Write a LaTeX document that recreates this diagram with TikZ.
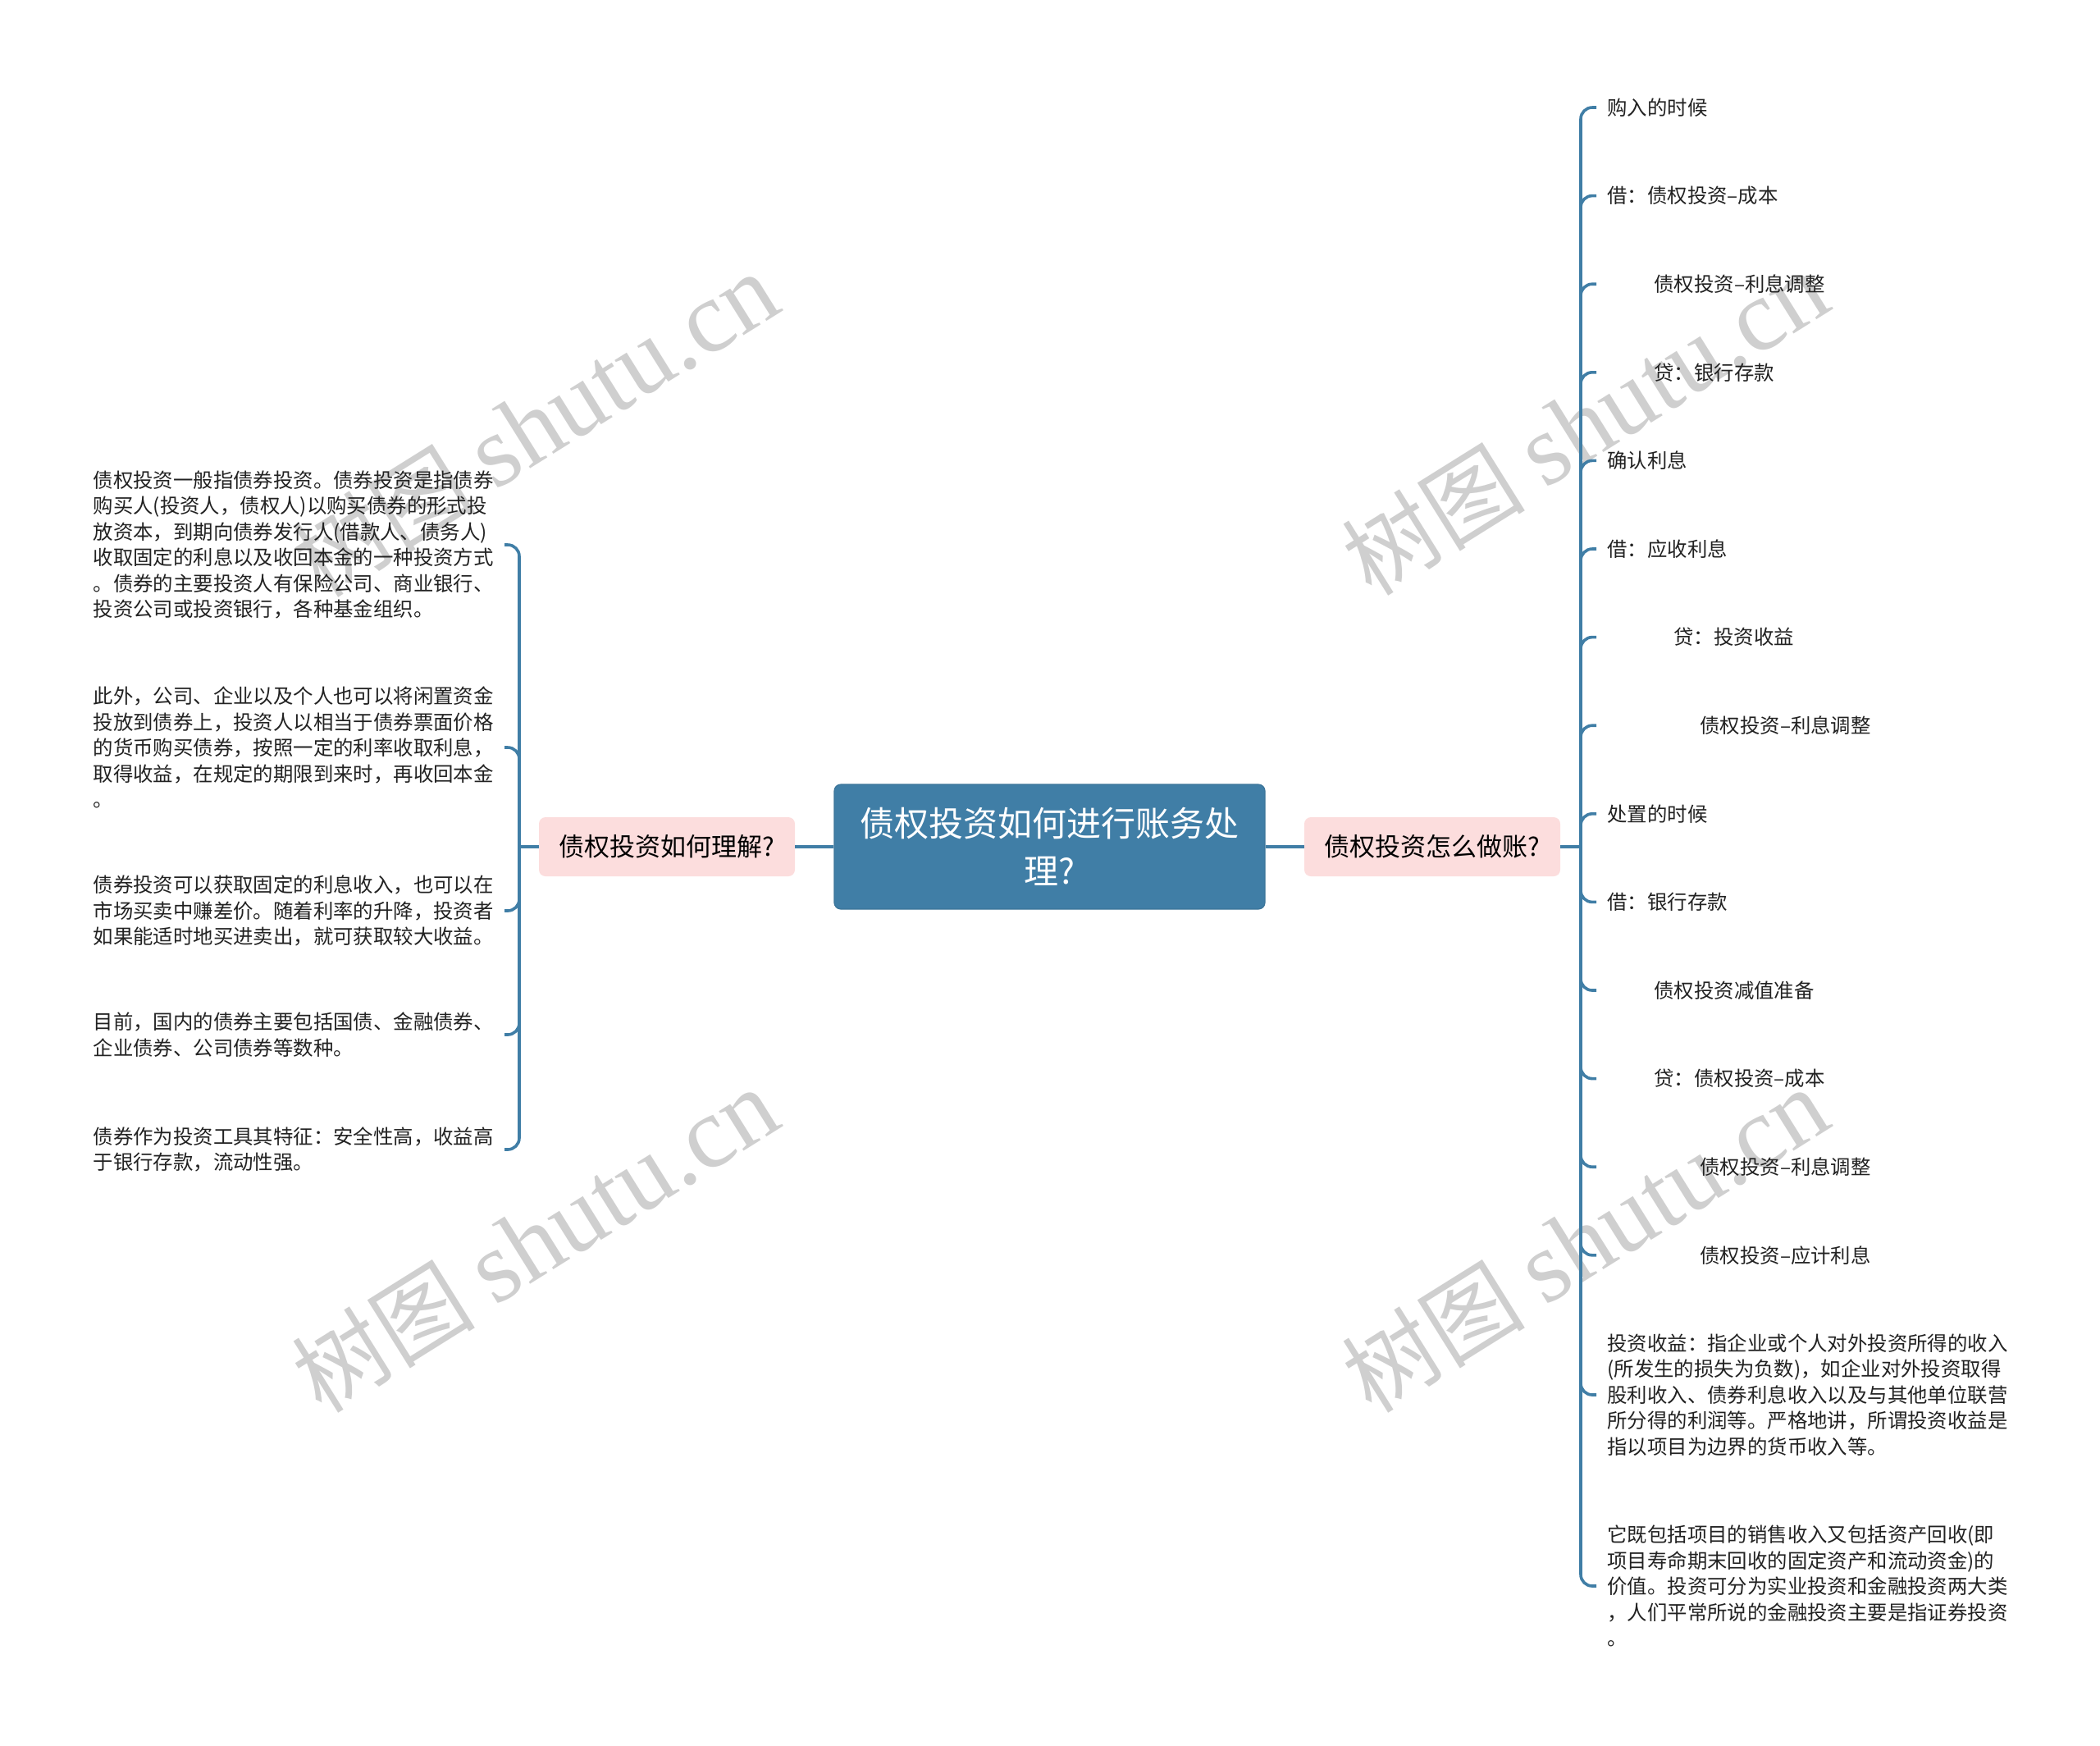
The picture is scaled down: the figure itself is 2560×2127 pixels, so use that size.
\documentclass[tikz,border=0pt]{standalone}
\usepackage{fontspec}
\setmainfont{Noto Sans CJK SC}
\newfontfamily\wmfont{Liberation Serif}
\usetikzlibrary{positioning}

\definecolor{rootblue}{RGB}{64,126,166}
\definecolor{qpink}{RGB}{252,221,221}
\definecolor{leaftext}{RGB}{34,34,34}

\begin{document}
\begin{tikzpicture}[
    x=0.5pt, y=-0.5pt,
    node distance=23.5pt,
    root/.style={
        rectangle, rounded corners=4pt,
        fill=rootblue, draw=rootblue!92!black, line width=0.6pt,
        minimum width=262.5pt, minimum height=76pt, inner sep=0pt,
        text=white, align=center,
        font=\fontsize{21}{29}\selectfont
    },
    quest/.style={
        rectangle, rounded corners=4pt, fill=qpink,
        minimum width=156pt, minimum height=36pt, inner sep=0pt,
        text=black, font=\fontsize{15.5}{19}\selectfont
    },
    leafl/.style={
        anchor=east, inner xsep=6.5pt, inner ysep=0pt, align=left,
        text=leaftext, font=\fontsize{12.2}{15.7}\selectfont
    },
    leafr/.style={
        anchor=west, inner xsep=6.5pt, inner ysep=0pt, align=left,
        text=leaftext, font=\fontsize{12.2}{15.7}\selectfont
    },
    wmark/.style={rotate=32, inner sep=0pt, text=black!19},
    conn/.style={draw=rootblue, line width=1.8pt},
    twig/.style={conn, rounded corners=7pt}
]
    \useasboundingbox (0,0) rectangle (2560,2127);

    % watermarks, behind everything
    \node[wmark] (w1) at (652,518)  {\fontsize{56}{56}\selectfont 树图 \wmfont\fontsize{62}{62}\selectfont shutu.cn};
    \node[wmark] (w2) at (652,1512) {\fontsize{56}{56}\selectfont 树图 \wmfont\fontsize{62}{62}\selectfont shutu.cn};
    \node[wmark] (w3) at (1932,516) {\fontsize{56}{56}\selectfont 树图 \wmfont\fontsize{62}{62}\selectfont shutu.cn};
    \node[wmark] (w4) at (1932,1512) {\fontsize{56}{56}\selectfont 树图 \wmfont\fontsize{62}{62}\selectfont shutu.cn};

    % centre and the two questions
    \node[root] (root) at (1279.5,1032) {债权投资如何进行账务处\\理?};
    \node[quest] (qL) [left=of root]  {债权投资如何理解?};
    \node[quest] (qR) [right=of root] {债权投资怎么做账?};

    \coordinate (lt) at (633,1032);
    \coordinate (rt) at (1927,1032);

    % left leaves
    \node[leafl] (L1) at (615,664) {债权投资一般指债券投资。债券投资是指债券\\购买人(投资人，债权人)以购买债券的形式投\\放资本，到期向债券发行人(借款人、债务人)\\收取固定的利息以及收回本金的一种投资方式\\。债券的主要投资人有保险公司、商业银行、\\投资公司或投资银行，各种基金组织。};
    \node[leafl] (L2) at (615,911) {此外，公司、企业以及个人也可以将闲置资金\\投放到债券上，投资人以相当于债券票面价格\\的货币购买债券，按照一定的利率收取利息，\\取得收益，在规定的期限到来时，再收回本金\\。};
    \node[leafl] (L3) at (615,1110) {债券投资可以获取固定的利息收入，也可以在\\市场买卖中赚差价。随着利率的升降，投资者\\如果能适时地买进卖出，就可获取较大收益。};
    \node[leafl] (L4) at (615,1261) {目前，国内的债券主要包括国债、金融债券、\\企业债券、公司债券等数种。};
    \node[leafl] (L5) at (615,1401) {债券作为投资工具其特征：安全性高，收益高\\于银行存款，流动性强。};

    % right leaves
    \node[leafr] (R1)  at (1946,131)    {购入的时候};
    \node[leafr] (R2)  at (1946,238.6)  {借：债权投资–成本};
    \node[leafr] (R3)  at (1946,346.2)  {\hspace{28.5pt}债权投资–利息调整};
    \node[leafr] (R4)  at (1946,453.8)  {\hspace{28.5pt}贷：银行存款};
    \node[leafr] (R5)  at (1946,561.4)  {确认利息};
    \node[leafr] (R6)  at (1946,669)    {借：应收利息};
    \node[leafr] (R7)  at (1946,776.6)  {\hspace{40.5pt}贷：投资收益};
    \node[leafr] (R8)  at (1946,884.2)  {\hspace{56.5pt}债权投资–利息调整};
    \node[leafr] (R9)  at (1946,991.8)  {处置的时候};
    \node[leafr] (R10) at (1946,1099.4) {借：银行存款};
    \node[leafr] (R11) at (1946,1207)   {\hspace{28.5pt}债权投资减值准备};
    \node[leafr] (R12) at (1946,1314.6) {\hspace{28.5pt}贷：债权投资–成本};
    \node[leafr] (R13) at (1946,1422.2) {\hspace{56.5pt}债权投资–利息调整};
    \node[leafr] (R14) at (1946,1529.8) {\hspace{56.5pt}债权投资–应计利息};
    \node[leafr] (R15) at (1946,1700)   {投资收益：指企业或个人对外投资所得的收入\\(所发生的损失为负数)，如企业对外投资取得\\股利收入、债券利息收入以及与其他单位联营\\所分得的利润等。严格地讲，所谓投资收益是\\指以项目为边界的货币收入等。};
    \node[leafr] (R16) at (1946,1933)   {它既包括项目的销售收入又包括资产回收(即\\项目寿命期末回收的固定资产和流动资金)的\\价值。投资可分为实业投资和金融投资两大类\\，人们平常所说的金融投资主要是指证券投资\\。};

    % Edges
    \draw[conn] (root) -- (qL);
    \draw[conn] (root) -- (qR);
    \draw[conn] (qL.west) -- (lt);
    \draw[conn] (qR.east) -- (rt);

    \draw[twig] (lt) |- (L1.east);
    \draw[twig] (lt) |- (L2.east);
    \draw[twig] (lt) |- (L3.east);
    \draw[twig] (lt) |- (L4.east);
    \draw[twig] (lt) |- (L5.east);

    \draw[twig] (rt) |- (R1.west);
    \draw[twig] (rt) |- (R2.west);
    \draw[twig] (rt) |- (R3.west);
    \draw[twig] (rt) |- (R4.west);
    \draw[twig] (rt) |- (R5.west);
    \draw[twig] (rt) |- (R6.west);
    \draw[twig] (rt) |- (R7.west);
    \draw[twig] (rt) |- (R8.west);
    \draw[twig] (rt) |- (R9.west);
    \draw[twig] (rt) |- (R10.west);
    \draw[twig] (rt) |- (R11.west);
    \draw[twig] (rt) |- (R12.west);
    \draw[twig] (rt) |- (R13.west);
    \draw[twig] (rt) |- (R14.west);
    \draw[twig] (rt) |- (R15.west);
    \draw[twig] (rt) |- (R16.west);

\end{tikzpicture}
\end{document}
